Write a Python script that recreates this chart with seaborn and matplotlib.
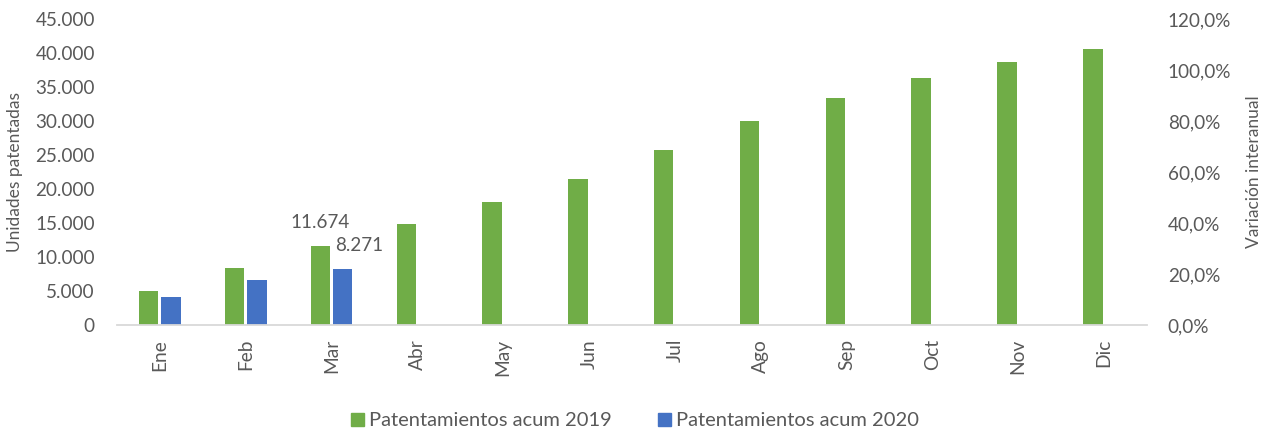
import numpy as np
import pandas as pd
import matplotlib
matplotlib.use("Agg")
import matplotlib.pyplot as plt
import seaborn as sns
from matplotlib.ticker import FuncFormatter

months = ["Ene", "Feb", "Mar", "Abr", "May", "Jun", "Jul", "Ago", "Sep", "Oct", "Nov", "Dic"]
acum_2019 = [5050, 8350, 11674, 14800, 18100, 21450, 25750, 30000, 33400, 36400, 38700, 40600]
acum_2020 = [4050, 6550, 8271, np.nan, np.nan, np.nan, np.nan, np.nan, np.nan, np.nan, np.nan, np.nan]
series_names = ["Patentamientos acum 2019", "Patentamientos acum 2020"]
label_months = ["Mar"]

GREEN = "#70ad47"
BLUE = "#4472c4"
TXT = "#595959"

sns.set_theme(style="white")
plt.rcParams["font.family"] = ["Lato", "DejaVu Sans"]

df = pd.DataFrame({
    "mes": months * 2,
    "valor": acum_2019 + acum_2020,
    "serie": [series_names[0]] * len(months) + [series_names[1]] * len(months),
})

fig = plt.figure(figsize=(12.7, 4.32), dpi=100)
ax = fig.add_axes([0.0921, 0.2477, 0.811, 0.708])

sns.barplot(data=df, x="mes", y="valor", hue="serie", order=months,
            hue_order=series_names, palette=[GREEN, BLUE],
            width=0.52, gap=0.13, ax=ax, legend=False, saturation=1,
            edgecolor="none")

ax.set_ylim(0, 45000)
ax.set_xlim(-0.5, len(months) - 0.5)
ax.set_yticks(np.arange(0, 45001, 5000))
ax.yaxis.set_major_formatter(FuncFormatter(lambda v, p: f"{int(v):,}".replace(",", ".")))
ax.tick_params(axis="y", labelsize=13.6, labelcolor=TXT, length=0, pad=16)
ax.tick_params(axis="x", labelsize=13.8, labelcolor=TXT, length=0, pad=10, rotation=90)
ax.set_xlabel("")
ax.set_ylabel("Unidades patentadas", fontsize=12.5, color=TXT)
ax.yaxis.set_label_coords(-0.091, 0.5)
for s in ["left", "right", "top"]:
    ax.spines[s].set_visible(False)
ax.spines["bottom"].set_color("#d9d9d9")
ax.spines["bottom"].set_linewidth(1.3)

# data labels
cont19, cont20 = ax.containers[0], ax.containers[1]
for m in label_months:
    i = months.index(m)
    b = cont19[i]
    ax.annotate(f"{acum_2019[i]:,}".replace(",", "."),
                (b.get_x() + b.get_width() / 2, b.get_height()),
                xytext=(0, 16.6), textcoords="offset points",
                ha="center", va="center", fontsize=13.6, color=TXT)
    b2 = cont20[i]
    ax.annotate(f"{int(acum_2020[i]):,}".replace(",", "."),
                (b2.get_x() + b2.get_width() / 2, b2.get_height()),
                xytext=(12.2, 16.4), textcoords="offset points",
                ha="center", va="center", fontsize=13.6, color=TXT)

ax2 = ax.twinx()
ax2.set_ylim(0, 1.2)
ax2.set_yticks(np.arange(0, 1.21, 0.2))
ax2.yaxis.set_major_formatter(FuncFormatter(lambda v, p: f"{v*100:.1f}%".replace(".", ",")))
ax2.tick_params(axis="y", labelsize=13.6, labelcolor=TXT, length=0, pad=15)
ax2.set_ylabel("Variación interanual", fontsize=12.5, color=TXT)
ax2.yaxis.set_label_coords(1.096, 0.5)
for s in ["left", "right", "top", "bottom"]:
    ax2.spines[s].set_visible(False)
ax2.grid(False)

handles = [plt.Rectangle((0, 0), 1, 1, color=GREEN), plt.Rectangle((0, 0), 1, 1, color=BLUE)]
leg = fig.legend(handles, series_names, loc="center", bbox_to_anchor=(0.5, 0.0255),
                 ncol=2, frameon=False, fontsize=14.5, handlelength=0.65, handleheight=0.65,
                 handletextpad=0.25, columnspacing=2.3)
for t in leg.get_texts():
    t.set_color(TXT)

fig.savefig("out.png", dpi=100)
